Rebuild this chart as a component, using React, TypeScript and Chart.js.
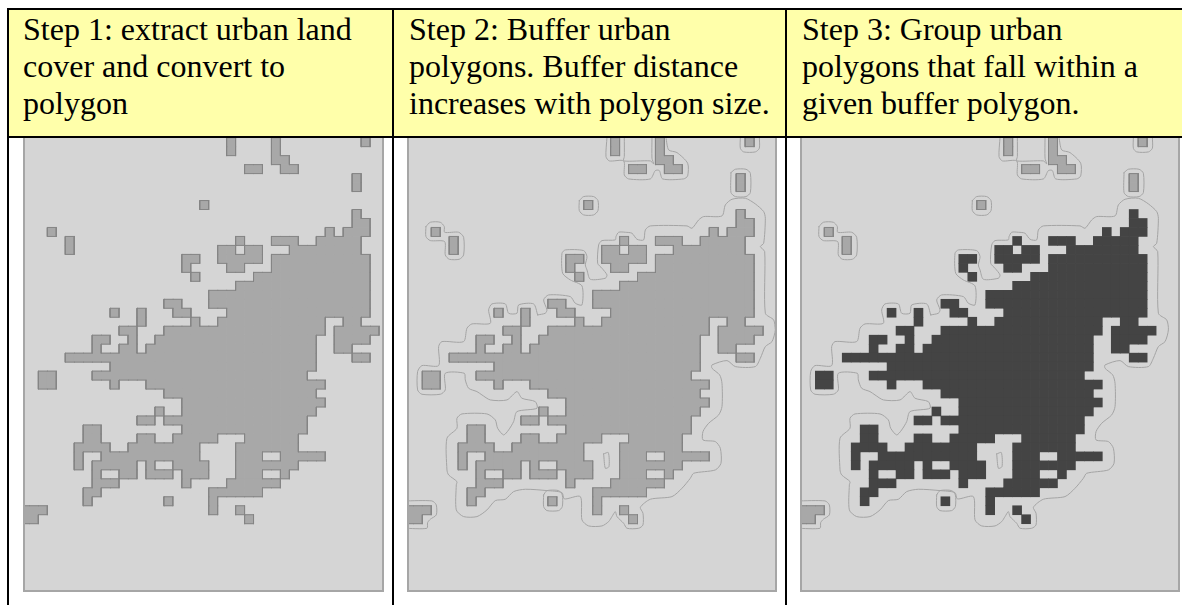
import React, { useEffect, useRef } from "react";
import { Chart, registerables } from "chart.js";

Chart.register(...registerables);

// Header captions, one list of lines per step.
const STEP_1_LINES = ["Step 1: extract urban land", "cover and convert to", "polygon"];
const STEP_2_LINES = ["Step 2: Buffer urban", "polygons. Buffer distance", "increases with polygon size."];
const STEP_3_LINES = ["Step 3: Group urban", "polygons that fall within a", "given buffer polygon."];

// Land-cover raster as runs: [row, firstColumn, lastColumn].
// Urban patches which are NOT grouped in step 3.
const ISOLATED_RUNS: number[][] = [
  [-1, 21, 21], [-1, 26, 26], [-1, 36, 36],
  [0, 21, 21], [0, 26, 26],
  [1, 26, 27],
  [2, 23, 24], [2, 27, 28],
  [3, 35, 35], [4, 35, 35],
  [6, 18, 18],
  [9, 1, 1],
  [10, 3, 3], [11, 3, 3],
  [40, -2, 0], [41, -2, -1],
];

// Urban patches which step 3 groups together.
const GROUPED_RUNS: number[][] = [
  [7, 35, 35],
  [8, 35, 36],
  [9, 32, 32], [9, 34, 36],
  [10, 22, 22], [10, 26, 28], [10, 31, 35],
  [11, 20, 21], [11, 23, 24], [11, 28, 35],
  [12, 16, 17], [12, 20, 24], [12, 26, 36],
  [13, 16, 16], [13, 21, 22], [13, 26, 36],
  [14, 17, 17], [14, 24, 36],
  [15, 22, 36],
  [16, 19, 36],
  [17, 14, 15], [17, 19, 36],
  [18, 8, 8], [18, 11, 11], [18, 15, 16], [18, 21, 36],
  [19, 11, 11], [19, 17, 17], [19, 20, 31], [19, 34, 35],
  [20, 9, 10], [20, 14, 31], [20, 33, 37],
  [21, 6, 7], [21, 10, 10], [21, 13, 30], [21, 33, 36],
  [22, 6, 6], [22, 9, 10], [22, 12, 30], [22, 33, 34],
  [23, 3, 30], [23, 35, 36],
  [24, 8, 30],
  [25, 0, 1], [25, 6, 29],
  [26, 0, 1], [26, 8, 8], [26, 12, 31],
  [27, 14, 30],
  [28, 16, 31],
  [29, 13, 13], [29, 16, 30],
  [30, 11, 12], [30, 14, 29],
  [31, 5, 6], [31, 16, 29],
  [32, 5, 6], [32, 11, 12], [32, 15, 19], [32, 23, 28],
  [33, 4, 7], [33, 10, 17], [33, 22, 28],
  [34, 4, 4], [34, 7, 17], [34, 22, 24], [34, 27, 31],
  [35, 4, 4], [35, 6, 10], [35, 12, 12], [35, 15, 18], [35, 22, 28],
  [36, 6, 6], [36, 9, 10], [36, 12, 14], [36, 16, 18], [36, 22, 24], [36, 27, 27],
  [37, 6, 8], [37, 16, 16], [37, 21, 26],
  [38, 5, 6], [38, 19, 24],
  [39, 5, 5], [39, 14, 14], [39, 19, 19],
  [40, 19, 19], [40, 22, 22],
  [41, 23, 23],
];

// Buffer outlines, as [x, y] pairs in tracing units (1/3 px).
const BUFFER_MAIN: number[][] = [
  [392,45],[415,40],[420,30],[410,0],[425,-15],[490,-10],[505,10],[525,15],[525,-42],[490,-60],[467,-80],[465,-140],[475,-150],[530,-148],[540,-130],[535,-105],[540,-90],[550,-62],[595,-65],[600,-75],[585,-95],[572,-110],[575,-165],[585,-178],[625,-180],[627,-190],[635,-203],[655,-203],[675,-200],[690,-182],[710,-180],[715,-210],[730,-222],[840,-222],[855,-215],[875,-240],[890,-250],[945,-252],[955,-285],[975,-302],[1015,-305],[1045,-288],[1070,-265],[1075,-245],[1070,-170],[1060,-160],[1073,-145],[1075,40],
  [1100,60],[1105,90],[1095,125],[1075,140],[1060,175],[1045,200],[985,200],[960,182],[915,195],[915,205],[938,225],[945,250],[945,320],[935,345],[905,370],[888,395],[888,420],[925,425],[940,445],[942,490],[925,510],[860,520],[850,535],[825,565],[795,590],[730,598],[700,622],[708,640],[708,675],[695,685],[660,685],[650,670],[630,650],[625,635],[615,650],[605,665],[585,678],[545,678],[525,660],[520,590],[472,597],[465,578],[420,572],[355,568],[320,575],[295,598],[265,602],[240,630],[210,650],[170,650],[148,630],[148,555],[150,545],[125,525],[120,510],[120,415],[150,385],[150,355],[165,342],[240,342],[265,360],[272,385],[290,405],[305,390],[320,365],[330,335],[390,325],[385,305],[345,295],[330,275],[300,300],[250,300],[225,285],[210,275],[185,265],[175,240],[172,220],[115,220],[115,270],[100,283],[45,283],[32,270],[32,215],[45,197],[95,197],[95,140],[105,125],[170,125],[180,85],[195,72],[250,70],[245,30],[255,12],[295,12],[305,40],[330,40],[335,15],[380,12],[392,45],
];
const BUFFER_HOLE: number[][] = [[590,462],[604,458],[606,500],[595,505],[590,462]];
const BUFFER_TOP_A: number[][] = [[600,-487],[597,-430],[607,-417],[650,-417],[652,-375],[665,-363],[730,-363],[745,-388],[757,-388],[767,-363],[830,-363],[842,-372],[842,-410],[810,-442],[785,-450],[777,-487]];
const BUFFER_TOP_B: number[][] = [[652,-487],[652,-430],[650,-417],[730,-417],[740,-408],[735,-425],[735,-487]];
const BUFFER_TOP_C: number[][] = [[1000,-487],[1000,-455],[1010,-444],[1045,-444],[1057,-455],[1057,-487]];
const BUFFER_RIGHT: number[][] = [[972,-382],[985,-392],[1017,-392],[1030,-380],[1030,-322],[1017,-310],[985,-310],[972,-322],[972,-382]];
const BUFFER_MID: number[][] = [[517,-298],[530,-310],[560,-310],[573,-298],[573,-268],[560,-255],[530,-255],[517,-268],[517,-298]];
const BUFFER_LEFT: number[][] = [[57,-220],[70,-233],[100,-233],[112,-220],[113,-203],[155,-203],[170,-188],[170,-135],[157,-122],[127,-122],[115,-135],[113,-175],[70,-178],[57,-190],[57,-220]];
const BUFFER_DOT: number[][] = [[410,585],[420,572],[455,572],[466,585],[466,620],[455,632],[420,632],[410,620],[410,585]];
const BUFFER_EDGE: number[][] = [[-8,603],[75,603],[88,615],[88,645],[70,658],[62,668],[60,685],[-8,685]];
const BUFFER_TRACES = [BUFFER_MAIN, BUFFER_HOLE, BUFFER_TOP_A, BUFFER_TOP_B, BUFFER_TOP_C, BUFFER_RIGHT, BUFFER_MID, BUFFER_LEFT, BUFFER_DOT, BUFFER_EDGE];

const COLOR_LAND = "#d5d5d5";
const COLOR_URBAN = "#a8a8a8";
const COLOR_GROUP = "#444444";
const COLOR_EDGE = "#858585";
const COLOR_BUFFER = "#a4a4a4";

type Pt = { x: number; y: number };

function cellsOf(runs: number[][]): number[][] {
  const out: number[][] = [];
  for (const [row, a, b] of runs) for (let c = a; c <= b; c++) out.push([row, c]);
  return out;
}

function barsOf(runs: number[][]) {
  return cellsOf(runs).map(([row, c]) => ({ x: c + 0.5, y: [row, row + 1] }));
}

// Outer edges of the urban polygons, from the raster itself.
function edgesOf(runs: number[][], extra: boolean): Pt[] {
  const set = new Set(cellsOf(runs).map(([r, c]) => r + "," + c));
  const pts: Pt[] = [];
  const seg = (x1: number, y1: number, x2: number, y2: number) => {
    pts.push({ x: x1, y: y1 }, { x: x2, y: y2 }, { x: NaN, y: NaN });
  };
  for (const [r, c] of cellsOf(runs)) {
    if (!set.has(r - 1 + "," + c)) seg(c, r, c + 1, r);
    if (!set.has(r + 1 + "," + c)) seg(c, r + 1, c + 1, r + 1);
    if (!set.has(r + "," + (c - 1))) seg(c, r, c, r + 1);
    if (!set.has(r + "," + (c + 1))) seg(c + 1, r, c + 1, r + 1);
  }
  if (extra) seg(17, 18, 17, 19); // two patches overlapping along this column
  return pts;
}

function bufferPoints(): Pt[] {
  const pts: Pt[] = [];
  for (const trace of BUFFER_TRACES) {
    for (const [x, y] of trace) pts.push({ x: (x - 46) / 26.9, y: 18 + (y - 25) / 26.93 });
    pts.push({ x: NaN, y: NaN });
  }
  return pts;
}

type PanelSpec = {
  left: number; width: number; xMin: number; xMax: number; step: 1 | 2 | 3; lines: string[]; textLeft: number;
};
const PANELS: PanelSpec[] = [
  { left: 23, width: 361, xMin: -1.487, xMax: 38.33, step: 1, lines: STEP_1_LINES, textLeft: 23 },
  { left: 407, width: 370, xMin: -1.48, xMax: 39.33, step: 2, lines: STEP_2_LINES, textLeft: 409 },
  { left: 800, width: 380, xMin: -1.487, xMax: 40.44, step: 3, lines: STEP_3_LINES, textLeft: 802 },
];
const PANEL_TOP = 138;
const PANEL_BOTTOM = 592;

function MapPanel({ spec }: { spec: PanelSpec }) {
  const ref = useRef<HTMLCanvasElement | null>(null);
  useEffect(() => {
    const canvas = ref.current;
    if (!canvas) return;
    const all = [...ISOLATED_RUNS, ...GROUPED_RUNS];
    const datasets: any[] = [];
    const bar = (runs: number[][], color: string, order: number) => ({
      type: "bar", data: barsOf(runs), backgroundColor: color, borderWidth: 0,
      barPercentage: 1, categoryPercentage: 1, grouped: false, order,
    });
    const line = (pts: Pt[], color: string, order: number, tension: number) => ({
      type: "line", data: pts, borderColor: color, borderWidth: 1, pointRadius: 0,
      fill: false, spanGaps: false, tension, order, borderCapStyle: "square",
    });
    if (spec.step === 3) {
      datasets.push(bar(GROUPED_RUNS, COLOR_GROUP, 5));
      datasets.push(bar(ISOLATED_RUNS, COLOR_URBAN, 6));
      datasets.push(line(edgesOf(ISOLATED_RUNS, false), COLOR_EDGE, 2, 0));
      datasets.push(line(bufferPoints(), COLOR_BUFFER, 1, 0.25));
    } else {
      datasets.push(bar(all, COLOR_URBAN, 5));
      datasets.push(line(edgesOf(all, true), COLOR_EDGE, 2, 0));
      if (spec.step === 2) datasets.push(line(bufferPoints(), COLOR_BUFFER, 1, 0.25));
    }
    const chart = new Chart(canvas, {
      data: { datasets },
      options: {
        animation: false,
        responsive: false,
        layout: { padding: 0 },
        plugins: { legend: { display: false }, tooltip: { enabled: false }, title: { display: false } },
        scales: {
          x: { type: "linear", min: spec.xMin, max: spec.xMax, display: false, offset: false,
               ticks: { stepSize: 5, includeBounds: false }, grid: { display: false } },
          y: { type: "linear", reverse: true, min: -0.966, max: 49.385, display: false,
               ticks: { stepSize: 5, includeBounds: false }, grid: { display: false } },
        },
      },
    } as any);
    return () => chart.destroy();
  }, [spec]);
  return (
    <div style={{ position: "absolute", left: spec.left, top: PANEL_TOP, width: spec.width, height: PANEL_BOTTOM - PANEL_TOP,
      boxSizing: "border-box", background: COLOR_LAND, borderLeft: "2px solid #a6a6a6", borderRight: "2px solid #a6a6a6", borderBottom: "2px solid #a6a6a6", overflow: "hidden" }}>
      <canvas ref={ref} width={spec.width - 4} height={PANEL_BOTTOM - PANEL_TOP - 2}
        style={{ display: "block", filter: "blur(0.5px)" }} />
    </div>
  );
}

const rule = (l: number, t: number, w: number, h: number) => (
  <div style={{ position: "absolute", left: l, top: t, width: w, height: h, background: "#000" }} />
);

export default function App() {
  return (
    <div style={{ position: "fixed", left: 0, top: 0, width: 1182, height: 605, overflow: "hidden", background: "#fff",
      fontFamily: '"Liberation Serif", serif', color: "#000" }}>
      <div style={{ position: "absolute", left: 8, top: 10, width: 1174, height: 126, background: "#ffffaa" }} />
      {PANELS.map((p) => (
        <div key={p.step} style={{ position: "absolute", left: p.textLeft, top: 11, fontSize: 32, lineHeight: "37px", whiteSpace: "nowrap" }}>
          {p.lines.map((t) => <div key={t}>{t}</div>)}
        </div>
      ))}
      {PANELS.map((p) => <MapPanel key={p.step} spec={p} />)}
      {rule(7, 8, 1175, 2)}
      {rule(7, 136, 1175, 2)}
      {rule(7, 8, 2, 597)}
      {rule(392, 8, 2, 597)}
      {rule(785, 8, 2, 597)}
    </div>
  );
}
